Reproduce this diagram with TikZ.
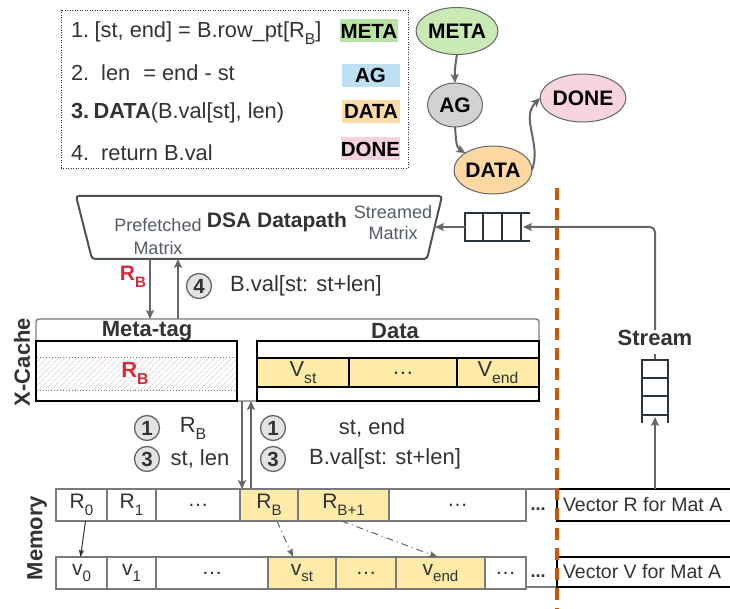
\documentclass[tikz,border=0pt]{standalone}
\usepackage{fontspec}
\setmainfont{Liberation Sans}
\usetikzlibrary{shapes.geometric,arrows.meta,patterns.meta}

\definecolor{txt}{HTML}{333333}
\definecolor{lineG}{HTML}{666666}
\definecolor{cellB}{HTML}{7A7A7A}
\definecolor{subT}{HTML}{555C66}
\definecolor{cellY}{HTML}{FDEBA7}
\definecolor{keyR}{HTML}{D42A3C}
\definecolor{qDark}{HTML}{2B3340}
\definecolor{orangeD}{HTML}{D35400}
\definecolor{tagMeta}{HTML}{B9E3A3}
\definecolor{tagAG}{HTML}{BEE0F3}
\definecolor{tagData}{HTML}{FDDBA8}
\definecolor{tagDone}{HTML}{F7D1DE}
\definecolor{elMeta}{HTML}{C9EAB5}
\definecolor{elAG}{HTML}{D2D2D2}
\definecolor{elData}{HTML}{FDD8A3}
\definecolor{elDone}{HTML}{F8D3E0}

\newcommand\fsz[1]{\fontsize{#1}{#1}\selectfont}
\newcommand\sbs[1]{\raisebox{-0.32em}{\scalebox{0.72}{#1}}}

\begin{document}
\begin{tikzpicture}[x=1pt,y=-1pt,
  every node/.style={inner sep=0pt, outer sep=0pt, text=txt},
  body/.style={font=\fsz{21.8}},
  small/.style={font=\fsz{18}, text=subT},
  head/.style={font=\fsz{22}\bfseries},
  tag/.style={minimum width=58, minimum height=23, font=\fsz{20.5}\bfseries, text=black},
  ell/.style={ellipse, draw=lineG, line width=1pt, font=\fsz{21}\bfseries, text=black},
  gArrow/.style={draw=lineG, line width=2pt, -{Stealth[length=9pt,width=8pt,inset=2pt]}},
  thinArrow/.style={draw=txt, line width=1pt, -{Stealth[length=7pt,width=5pt,inset=1pt]}},
  ddArrow/.style={draw=lineG, line width=1pt, dash pattern=on 7pt off 4pt on 1pt off 4pt, -{Stealth[length=8pt,width=6pt,inset=1pt]}},
  cell/.style={draw=cellB, line width=1.2pt, minimum height=32, anchor=north west, font=\fsz{21}},
  ycell/.style={cell, fill=cellY},
  numc/.style={circle, draw=lineG, fill=gray!22, line width=1.3pt, minimum size=25pt, font=\fsz{20.5}\bfseries},
  qline/.style={draw=qDark, line width=1.5pt}
]
\useasboundingbox (0,0) rectangle (730,609);

% ---- algorithm listing ----
\draw[draw=txt, line width=0.9pt, dash pattern=on 1pt off 1.5pt] (61,10) rectangle (408,168);
\node[body, anchor=west] (l1) at (71,33) {1.\hspace{0.25em}[st, end] = B.row\_pt[R\sbs{B}]};
\node[body, anchor=west] (l2) at (71,73) {2.\hspace{0.55em}len\hspace{0.6em}= end - st};
\node[body, anchor=west] (l3) at (71,113) {\textbf{3.\hspace{0.2em}DATA}(B.val[st], len)};
\node[body, anchor=west] (l4) at (71,153) {4.\hspace{0.55em}return B.val};
\node[tag, fill=tagMeta] (tMeta) at (369,31) {META};
\node[tag, fill=tagAG] (tAG) at (370.5,75.5) {AG};
\node[tag, fill=tagData] (tData) at (371,111.5) {DATA};
\node[tag, fill=tagDone] (tDone) at (370.5,149) {DONE};

% ---- state machine ----
\node[ell, fill=elMeta, minimum width=67, minimum height=47] (eMeta) at (457,31) {META};
\node[ell, fill=elAG, minimum width=55, minimum height=44] (eAG) at (455,105) {AG};
\node[ell, fill=elData, minimum width=63, minimum height=48] (eData) at (493,170) {DATA};
\node[ell, fill=elDone, minimum width=73, minimum height=48] (eDone) at (583,98) {DONE};
\draw[gArrow] (eMeta.south) to[bend right=6] (eAG.north);
\draw[gArrow] (eAG.south) to[out=-85, in=150] (eData.north west);
\draw[gArrow] (eData.east) to[out=70, in=225] (eDone.west);

% ---- DSA datapath ----
\draw[draw=lineG!80!black, line width=2pt, rounded corners=3pt]
  (76,196) -- (442,196) -- (427,259) -- (92,259) -- cycle;
\node[font=\fsz{21}\bfseries] (dsa) at (277,222) {DSA Datapath};
\node[small] (pf1) at (158,225) {Prefetched};
\node[small] (pf2) at (158,248) {Matrix};
\node[small] (sm1) at (393,212) {Streamed};
\node[small] (sm2) at (393,233) {Matrix};

% horizontal stream queue
\draw[qline] (530,213) -- (465,213) -- (465,241) -- (530,241);
\foreach \x in {483,502,521} \draw[qline] (\x,213) -- (\x,241);
\coordinate (qHout) at (465,227);
\coordinate (dsaIn) at (435,227);
\coordinate (qHin) at (523,227);
\draw[gArrow] (qHout) -- (dsaIn);

% ---- datapath <-> X-Cache ----
\coordinate (dsaRB) at (150,259);
\coordinate (xcRB) at (150,319);
\coordinate (dsaV) at (178,259);
\coordinate (xcV) at (178,319);
\draw[gArrow] (dsaRB) -- (xcRB);
\draw[gArrow] (xcV) -- (dsaV);
\node[font=\fsz{21}\bfseries, text=keyR] (rbA) at (133,277) {R\sbs{B}};
\node[numc] (n4) at (199,286) {4};
\node[font=\fsz{22}, anchor=west] (bv4) at (230,286) {B.val[st: st+len]};

% ---- X-Cache ----
\draw[draw=cellB, line width=1.3pt, rounded corners=3pt] (36,319) rectangle (539,401);
\node[head] (mtag) at (147,331) {Meta-tag};
\node[head] (dtag) at (395,331) {Data};
\path[pattern={Lines[angle=45,distance=4pt,line width=0.5pt]}, pattern color=gray!45] (36,357) rectangle (237,390);
\draw[draw=gray, line width=0.9pt, dotted] (35,357) rectangle (237,390);
\draw[draw=black, line width=1.2pt] (36,341) rectangle (237,401);
\node[font=\fsz{22}\bfseries, text=keyR] (rbX) at (135,373) {R\sbs{B}};
\draw[draw=black, line width=1.2pt] (257,341) rectangle (539,401);
\draw[draw=black, line width=1.2pt, fill=cellY] (257,358) rectangle (539,387);
\draw[draw=black, line width=1.2pt] (349,358) -- (349,387) (457,358) -- (457,387);
\node[body] (xvst) at (303,373) {V\sbs{st}};
\node[body] (xvdots) at (403,373) {\ldots};
\node[body] (xvend) at (498,373) {V\sbs{end}};
\node[head, rotate=90] (xcLbl) at (22,362) {X-Cache};

% ---- X-Cache <-> memory ----
\coordinate (xcDn) at (242,401);
\coordinate (memDn) at (242,489);
\coordinate (xcUp) at (251,401);
\coordinate (memUp) at (251,489);
\draw[gArrow] (xcDn) -- (memDn);
\draw[gArrow] (memUp) -- (xcUp);
\node[numc] (a1) at (147,428) {1};
\node[numc] (a3) at (147,459) {3};
\node[font=\fsz{22}] (ar) at (193,428) {R\sbs{B}};
\node[font=\fsz{22}] (asl) at (200,459) {st, len};
\node[numc] (b1) at (273,428) {1};
\node[numc] (b3) at (273,459) {3};
\node[font=\fsz{22}] (bse) at (372,428) {st, end};
\node[font=\fsz{22}] (bbv) at (385,459) {B.val[st: st+len]};

% ---- memory ----
\node[head, rotate=90] (memLbl) at (37,538) {Memory};
\node[cell, minimum width=51] (r0) at (56,489) {R\sbs{0}};
\node[cell, minimum width=49] (r1) at (107,489) {R\sbs{1}};
\node[cell, minimum width=84] (rd) at (156,489) {\ldots};
\node[ycell, minimum width=58] (rb) at (240,489) {R\sbs{B}};
\node[ycell, minimum width=91] (rb1) at (298,489) {R\sbs{B+1}};
\node[cell, minimum width=137] (rd2) at (389,489) {\ldots};
\node[font=\fsz{18}\bfseries] (rd3) at (538,509) {...};
\draw[draw=cellB, line width=1.2pt] (526,489) -- (557,489);

\node[cell, minimum width=51] (v0) at (56,557) {v\sbs{0}};
\node[cell, minimum width=49] (v1) at (107,557) {v\sbs{1}};
\node[cell, minimum width=112] (vd) at (156,557) {\ldots};
\node[ycell, minimum width=68] (vst) at (268,557) {v\sbs{st}};
\node[ycell, minimum width=60] (vd2) at (336,557) {\ldots};
\node[ycell, minimum width=89] (vend) at (396,557) {v\sbs{end}};
\node[cell, minimum width=41] (vd3) at (485,557) {\ldots};
\node[font=\fsz{18}\bfseries] (vd4) at (538,576) {...};
\draw[draw=cellB, line width=1.2pt] (526,587) -- (557,587);

\draw[thinArrow] ([xshift=4pt]r0.south) -- ([xshift=-1pt]v0.north);
\draw[ddArrow] ([xshift=8pt]rb.south) -- ([xshift=-9pt]vst.north);
\draw[ddArrow] ([xshift=-2pt]rb1.south) -- ([xshift=-3pt]vend.north);

% ---- streamed side ----
\node[cell, draw=black, minimum width=180, text=txt] (vecR) at (557,489) {};
\node[font=\fsz{19.5}, anchor=west] (vecRt) at (563,505) {Vector R for Mat A};
\node[cell, draw=black, minimum width=180, minimum height=30] (vecV) at (557,557) {};
\node[font=\fsz{19.5}, anchor=west] (vecVt) at (563,572) {Vector V for Mat A};

\draw[draw=orangeD, line width=4pt, dash pattern=on 12pt off 8pt] (557,188) -- (557,609);

\node[head] (stream) at (655,338) {Stream};
\draw[gArrow, rounded corners=5pt] (stream.north) -- (655,227) -- (qHin);
\draw[draw=lineG, line width=2pt] (655,354) -- (655,360);
\draw[qline] (642,423) -- (642,360) -- (668,360) -- (668,423);
\foreach \y in {378,396,415} \draw[qline] (642,\y) -- (668,\y);
\coordinate (vrTop) at (655,489);
\coordinate (vqBot) at (655,417);
\draw[gArrow] (vrTop) -- (vqBot);
\end{tikzpicture}
\end{document}
